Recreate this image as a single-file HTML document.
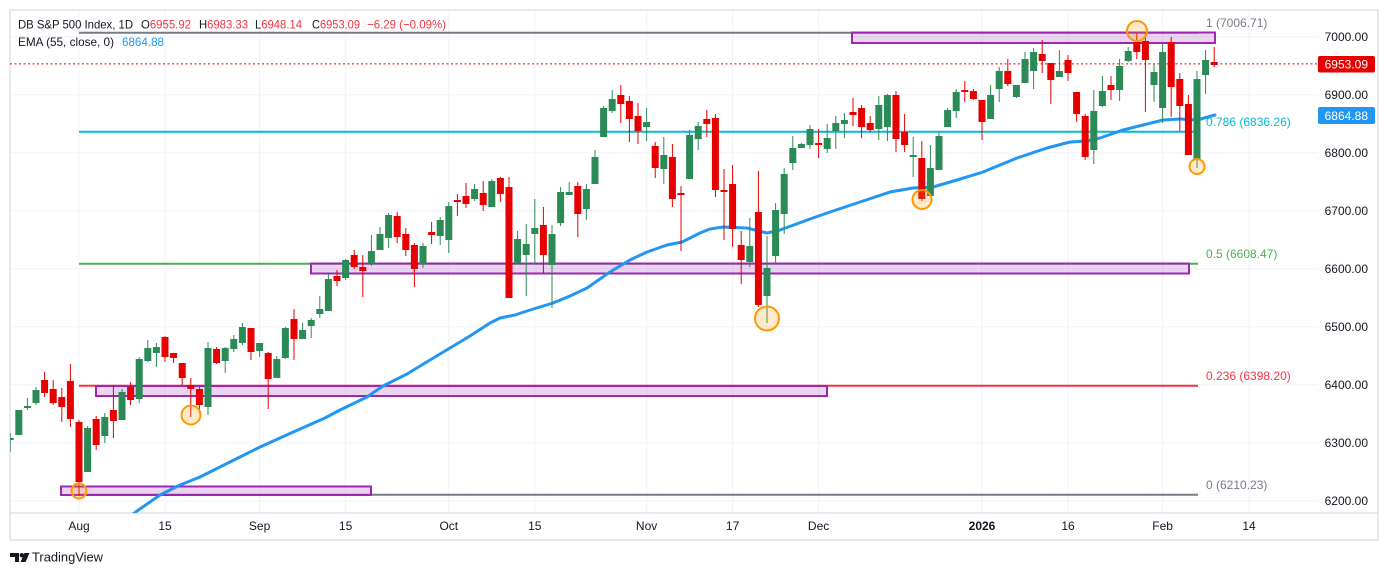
<!DOCTYPE html>
<html><head><meta charset="utf-8"><style>
html,body{margin:0;padding:0;background:#fff;}
svg{display:block;font-family:"Liberation Sans",Arial,sans-serif;}
</style></head><body>
<svg width="1388" height="575" viewBox="0 0 1388 575" xmlns="http://www.w3.org/2000/svg">
<defs><clipPath id="pc"><rect x="10" y="10" width="1308" height="503"/></clipPath></defs>
<rect width="1388" height="575" fill="#fff"/>
<!-- grid -->
<g stroke="#f0f3fa" stroke-width="1">
<path d="M10 36.7H1318M10 94.7H1318M10 152.7H1318M10 210.7H1318M10 268.7H1318M10 326.7H1318M10 384.7H1318M10 442.7H1318M10 500.7H1318"/>
<path d="M79 10V513M165 10V513M259.6 10V513M345.6 10V513M448.8 10V513M534.8 10V513M646.6 10V513M732.6 10V513M818.6 10V513M982 10V513M1068 10V513M1162.6 10V513M1249 10V513"/>
</g>
<!-- frame -->
<rect x="10" y="10" width="1368" height="530" fill="none" stroke="#e0e3eb" stroke-width="1.5"/>
<path d="M10 513H1378" stroke="#e0e3eb" stroke-width="1.5"/>
<g clip-path="url(#pc)">
<!-- fib lines -->
<path d="M79 32.8H1198" stroke="#787b86" stroke-width="2"/>
<path d="M79 131.7H1198" stroke="#00bcd4" stroke-width="2"/>
<path d="M79 263.8H1198" stroke="#4caf50" stroke-width="2"/>
<path d="M79 385.7H1198" stroke="#f23645" stroke-width="2"/>
<path d="M79 494.8H1198" stroke="#787b86" stroke-width="2"/>
<!-- zones -->
<g fill="rgba(156,39,176,0.2)" stroke="#9c27b0" stroke-width="2">
<rect x="852" y="32.5" width="363" height="10.5"/>
<rect x="311" y="263.5" width="878" height="10"/>
<rect x="96" y="386" width="731" height="10"/>
<rect x="61" y="486.5" width="310" height="8.5"/>
</g>
<!-- current price dotted -->
<path d="M10 63.9H1318" stroke="#e60000" stroke-width="1" stroke-dasharray="2,2.5"/>
<!-- EMA -->
<polyline fill="none" stroke="#2196f3" stroke-width="3" stroke-linejoin="round" stroke-linecap="round" points="128,518 137,511 160,495 180,485 200,477 220,467 240,457 260,447 280,438 300,429 325,418 340,410 367,397 383,386 407,374 430,360 450,348 470,336 490,323 500,318 515,315 530,310 553,303 570,296 587,288 610,272 630,260 647,252 667,245 682,242 700,233 710,229 723,227 747,228 767,233 780,230 810,219 833,211 857,203 890,192 913,188 933,187 957,180 983,172 1000,165 1017,158 1047,148 1070,142 1087,141 1100,138 1123,130 1143,125 1163,120 1180,119 1197,120 1215,115"/>
<!-- green wicks -->
<path stroke="#2b8a55" stroke-width="1" fill="none" d="M10.2 433V452M18.8 410V435M27.4 398V410M36 387V405M87.6 426V472M104.8 413V443M122 389V420M139.2 357V403M147.8 340V362M156.4 343V367M208 342V415M225.2 347V373M233.8 335V352M242.4 323V345M259.6 343V357M276.8 356V378M285.4 327V359M302.6 323V339M311.2 318V338M319.8 296V318M328.4 274V311M345.6 259V280M371.4 235V266M380 227V250M388.6 213V248M423 243V268M440.2 217V245M448.8 202V253M474.6 184V201M491.8 179V207M517.6 231V263M526.2 224V296M534.8 199V263M552 225V308M560.6 187V226M569.2 182V195M586.4 184V220M595 150V184M603.6 106V137M612.2 90V113M646.6 108V141M663.8 137V184M689.6 130V179M698.2 122V150M749.8 218V267M767 236V323M775.6 203V263M784.2 168V234M792.8 136V170M801.4 143V148M810 125V149M827.2 124V153M835.8 116V149M844.4 113V138M878.8 96V140M887.4 94V141M913.2 137V177M930.4 145V196M939 132V170M947.6 108V127M956.2 89V118M990.6 85V119M999.2 67V102M1016.4 85V98M1025 52V83M1033.6 48V89M1059.4 50V77M1093.8 90V164M1102.4 76V107M1119.6 59V101M1128.2 47V62M1154 64V102M1162.6 43V123M1197 71V168M1205.6 50V94"/>
<!-- red wicks -->
<path stroke="#e60000" stroke-width="1" fill="none" d="M44.6 372V397M53.2 380V405M61.8 388V422M70.4 364V427M79 420V495M96.2 416V450M113.4 385V438M130.6 382V405M165 336V362M173.6 353V363M182.2 363V385M190.8 378V417M199.4 387V413M216.6 347V364M251 328V360M268.2 352V409M294 309V360M337 270V286M354.2 250V269M362.8 255V297M397.2 212V243M405.8 228V256M414.4 243V287M431.6 222V244M457.4 194V216M466 183V208M483.2 181V211M500.4 177V202M509 177V298M543.4 207V273M577.8 182V237M620.8 85V123M629.4 96V142M638 103V144M655.2 142V178M672.4 144V207M681 186V251M706.8 110V137M715.4 114V197M724 169V240M732.6 165V247M741.2 231V284M758.4 171V307M818.6 129V158M853 98V126M861.6 105V138M870.2 116V132M896 91V152M904.6 114V152M921.8 141V201M964.8 81V102M973.4 89V100M982 100V140M1007.8 59V86M1042.2 40V73M1050.8 63V104M1068 55V81M1076.6 92V122M1085.2 114V160M1111 76V100M1136.8 33V59M1145.4 33V112M1171.2 37V117M1179.8 73V131M1188.4 95V155M1214.2 47V67"/>
<!-- green bodies -->
<g fill="#2b8a55">
<rect x="6.7" y="438" width="7" height="2"/><rect x="15.3" y="410" width="7" height="25"/><rect x="23.9" y="406" width="7" height="2"/><rect x="32.5" y="390" width="7" height="13"/><rect x="84.1" y="428" width="7" height="44"/><rect x="101.3" y="417" width="7" height="19"/><rect x="118.5" y="392" width="7" height="28"/><rect x="135.7" y="359" width="7" height="40"/><rect x="144.3" y="348" width="7" height="13"/><rect x="152.9" y="347" width="7" height="6"/><rect x="204.5" y="348" width="7" height="59"/><rect x="221.7" y="348" width="7" height="13"/><rect x="230.3" y="339" width="7" height="10"/><rect x="238.9" y="327" width="7" height="16"/><rect x="256.1" y="343" width="7" height="8"/><rect x="273.3" y="359" width="7" height="19"/><rect x="281.9" y="328" width="7" height="30"/><rect x="299.1" y="330" width="7" height="9"/><rect x="307.7" y="320" width="7" height="6"/><rect x="316.3" y="309" width="7" height="5"/><rect x="324.9" y="279" width="7" height="32"/><rect x="342.1" y="260" width="7" height="18"/><rect x="367.9" y="251" width="7" height="12"/><rect x="376.5" y="234" width="7" height="16"/><rect x="385.1" y="215" width="7" height="23"/><rect x="419.5" y="246" width="7" height="18"/><rect x="436.7" y="220" width="7" height="16"/><rect x="445.3" y="206" width="7" height="34"/><rect x="471.1" y="189" width="7" height="10"/><rect x="488.3" y="181" width="7" height="26"/><rect x="514.1" y="239" width="7" height="24"/><rect x="522.7" y="244" width="7" height="11"/><rect x="531.3" y="228" width="7" height="6"/><rect x="548.5" y="234" width="7" height="31"/><rect x="557.1" y="192" width="7" height="31"/><rect x="565.7" y="192" width="7" height="3"/><rect x="582.9" y="189" width="7" height="20"/><rect x="591.5" y="157" width="7" height="27"/><rect x="600.1" y="108" width="7" height="29"/><rect x="608.7" y="99" width="7" height="12"/><rect x="643.1" y="122" width="7" height="5"/><rect x="660.3" y="155" width="7" height="14"/><rect x="686.1" y="135" width="7" height="44"/><rect x="694.7" y="126" width="7" height="13"/><rect x="746.3" y="246" width="7" height="16"/><rect x="763.5" y="268" width="7" height="28"/><rect x="772.1" y="210" width="7" height="46"/><rect x="780.7" y="174" width="7" height="40"/><rect x="789.3" y="148" width="7" height="15"/><rect x="797.9" y="144" width="7" height="4"/><rect x="806.5" y="129" width="7" height="16"/><rect x="823.7" y="138" width="7" height="11"/><rect x="832.3" y="123" width="7" height="8"/><rect x="840.9" y="120" width="7" height="4"/><rect x="875.3" y="105" width="7" height="24"/><rect x="883.9" y="95" width="7" height="32"/><rect x="909.7" y="155" width="7" height="2"/><rect x="926.9" y="168" width="7" height="28"/><rect x="935.5" y="136" width="7" height="34"/><rect x="944.1" y="110" width="7" height="17"/><rect x="952.7" y="92" width="7" height="19"/><rect x="987.1" y="95" width="7" height="24"/><rect x="995.7" y="71" width="7" height="18"/><rect x="1012.9" y="85" width="7" height="12"/><rect x="1021.5" y="59" width="7" height="24"/><rect x="1030.1" y="52" width="7" height="19"/><rect x="1055.9" y="71" width="7" height="6"/><rect x="1090.3" y="111" width="7" height="39"/><rect x="1098.9" y="91" width="7" height="15"/><rect x="1116.1" y="66" width="7" height="24"/><rect x="1124.7" y="51" width="7" height="10"/><rect x="1150.5" y="72" width="7" height="13"/><rect x="1159.1" y="52" width="7" height="56"/><rect x="1193.5" y="79" width="7" height="81"/><rect x="1202.1" y="60" width="7" height="15"/>
</g>
<!-- red bodies -->
<g fill="#e60000">
<rect x="41.1" y="380" width="7" height="13"/><rect x="49.7" y="389" width="7" height="14"/><rect x="58.3" y="397" width="7" height="10"/><rect x="66.9" y="381" width="7" height="38"/><rect x="75.5" y="422" width="7" height="60"/><rect x="92.7" y="419" width="7" height="26"/><rect x="109.9" y="410" width="7" height="11"/><rect x="127.1" y="387" width="7" height="13"/><rect x="161.5" y="337" width="7" height="20"/><rect x="170.1" y="353" width="7" height="5"/><rect x="178.7" y="363" width="7" height="15"/><rect x="187.3" y="385" width="7" height="4"/><rect x="195.9" y="389" width="7" height="16"/><rect x="213.1" y="349" width="7" height="14"/><rect x="247.5" y="328" width="7" height="24"/><rect x="264.7" y="353" width="7" height="26"/><rect x="290.5" y="319" width="7" height="20"/><rect x="333.5" y="276" width="7" height="5"/><rect x="350.7" y="255" width="7" height="12"/><rect x="359.3" y="267" width="7" height="4"/><rect x="393.7" y="216" width="7" height="21"/><rect x="402.3" y="234" width="7" height="16"/><rect x="410.9" y="245" width="7" height="24"/><rect x="428.1" y="232" width="7" height="3"/><rect x="453.9" y="200" width="7" height="2"/><rect x="462.5" y="196" width="7" height="8"/><rect x="479.7" y="193" width="7" height="12"/><rect x="496.9" y="178" width="7" height="16"/><rect x="505.5" y="187" width="7" height="111"/><rect x="539.9" y="225" width="7" height="30"/><rect x="574.3" y="186" width="7" height="28"/><rect x="617.3" y="95" width="7" height="9"/><rect x="625.9" y="101" width="7" height="18"/><rect x="634.5" y="116" width="7" height="15"/><rect x="651.7" y="146" width="7" height="22"/><rect x="668.9" y="157" width="7" height="42"/><rect x="677.5" y="193" width="7" height="2"/><rect x="703.3" y="119" width="7" height="5"/><rect x="711.9" y="118" width="7" height="72"/><rect x="720.5" y="190" width="7" height="2"/><rect x="729.1" y="184" width="7" height="45"/><rect x="737.7" y="245" width="7" height="15"/><rect x="754.9" y="212" width="7" height="93"/><rect x="815.1" y="143" width="7" height="2"/><rect x="849.5" y="112" width="7" height="3"/><rect x="858.1" y="108" width="7" height="19"/><rect x="866.7" y="123" width="7" height="7"/><rect x="892.5" y="95" width="7" height="44"/><rect x="901.1" y="132" width="7" height="13"/><rect x="918.3" y="158" width="7" height="41"/><rect x="961.3" y="90" width="7" height="2"/><rect x="969.9" y="91" width="7" height="8"/><rect x="978.5" y="100" width="7" height="22"/><rect x="1004.3" y="71" width="7" height="13"/><rect x="1038.7" y="54" width="7" height="7"/><rect x="1047.3" y="63" width="7" height="17"/><rect x="1064.5" y="60" width="7" height="13"/><rect x="1073.1" y="92" width="7" height="22"/><rect x="1081.7" y="116" width="7" height="41"/><rect x="1107.5" y="85" width="7" height="5"/><rect x="1133.3" y="42" width="7" height="10"/><rect x="1141.9" y="41" width="7" height="19"/><rect x="1167.7" y="42" width="7" height="45"/><rect x="1176.3" y="79" width="7" height="27"/><rect x="1184.9" y="104" width="7" height="51"/><rect x="1210.7" y="62" width="7" height="3"/>
</g>
<!-- highlight circles -->
<g fill="rgba(255,152,0,0.2)" stroke="#ff9800" stroke-width="2">
<circle cx="79" cy="491" r="7.5"/>
<circle cx="191" cy="415" r="9.5"/>
<circle cx="767" cy="318.5" r="12"/>
<circle cx="922" cy="199.5" r="9.5"/>
<circle cx="1137" cy="31" r="10"/>
<circle cx="1197" cy="166.5" r="7.5"/>
</g>
</g>
<!-- header legend -->
<g font-size="12" fill="#131722">
<text x="18" y="28.5" textLength="115" lengthAdjust="spacingAndGlyphs">DB S&amp;P 500 Index, 1D</text>
<text x="141" y="28.5" textLength="50" lengthAdjust="spacingAndGlyphs">O<tspan fill="#f23645">6955.92</tspan></text>
<text x="199" y="28.5" textLength="49" lengthAdjust="spacingAndGlyphs">H<tspan fill="#f23645">6983.33</tspan></text>
<text x="255" y="28.5" textLength="47" lengthAdjust="spacingAndGlyphs">L<tspan fill="#f23645">6948.14</tspan></text>
<text x="312" y="28.5" textLength="48" lengthAdjust="spacingAndGlyphs">C<tspan fill="#f23645">6953.09</tspan></text>
<text x="367" y="28.5" textLength="79" lengthAdjust="spacingAndGlyphs" fill="#f23645">−6.29 (−0.09%)</text>
<text x="18" y="46" textLength="96" lengthAdjust="spacingAndGlyphs">EMA (55, close, 0)</text>
<text x="122" y="46" textLength="42" lengthAdjust="spacingAndGlyphs" fill="#2196f3">6864.88</text>
</g>
<!-- fib labels -->
<g font-size="12">
<text x="1206" y="27" fill="#787b86">1 (7006.71)</text>
<text x="1206" y="126" fill="#00bcd4">0.786 (6836.26)</text>
<text x="1206" y="258" fill="#4caf50">0.5 (6608.47)</text>
<text x="1206" y="380" fill="#f23645">0.236 (6398.20)</text>
<text x="1206" y="489" fill="#787b86">0 (6210.23)</text>
</g>
<!-- price axis -->
<g font-size="12" fill="#131722" text-anchor="end">
<text x="1368" y="41">7000.00</text>
<text x="1368" y="99">6900.00</text>
<text x="1368" y="157">6800.00</text>
<text x="1368" y="215">6700.00</text>
<text x="1368" y="273">6600.00</text>
<text x="1368" y="331">6500.00</text>
<text x="1368" y="389">6400.00</text>
<text x="1368" y="447">6300.00</text>
<text x="1368" y="505">6200.00</text>
</g>
<rect x="1318" y="56" width="57" height="16.5" rx="2" fill="#e60000"/>
<text x="1368" y="68.5" font-size="12" fill="#fff" text-anchor="end">6953.09</text>
<rect x="1318" y="107" width="57" height="17" rx="2" fill="#2196f3"/>
<text x="1368" y="119.8" font-size="12" fill="#fff" text-anchor="end">6864.88</text>
<!-- time axis -->
<g font-size="12" fill="#131722" text-anchor="middle">
<text x="79" y="530">Aug</text>
<text x="165" y="530">15</text>
<text x="259.6" y="530">Sep</text>
<text x="345.6" y="530">15</text>
<text x="448.8" y="530">Oct</text>
<text x="534.8" y="530">15</text>
<text x="646.6" y="530">Nov</text>
<text x="732.6" y="530">17</text>
<text x="818.6" y="530">Dec</text>
<text x="982" y="530" font-weight="bold">2026</text>
<text x="1068" y="530">16</text>
<text x="1162.6" y="530">Feb</text>
<text x="1249" y="530">14</text>
</g>
<!-- TradingView logo -->
<g fill="#131722">
<path d="M10 553H19V562H15V557H10Z"/>
<circle cx="21.8" cy="555.2" r="2.2"/>
<path d="M24.5 553H29.5L25.5 562H20.5Z"/>
</g>
<text x="32" y="561.5" font-size="13" fill="#131722" textLength="71" lengthAdjust="spacingAndGlyphs">TradingView</text>
</svg>
</body></html>
